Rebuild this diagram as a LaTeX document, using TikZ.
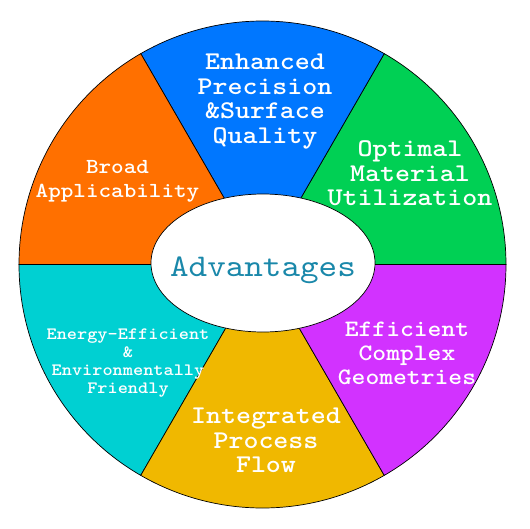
\documentclass[tikz,border=0pt]{standalone}
\usepackage{fontspec}
\setmonofont{lmmono10-regular}[Extension=.otf,BoldFont=lmmonolt10-bold,FakeStretch=1.12]
\usepackage{tikz}
\usetikzlibrary{shapes}
\definecolor{wblue}{HTML}{0077FF}
\definecolor{wgreen}{HTML}{00D054}
\definecolor{worange}{HTML}{FF7000}
\definecolor{wcyan}{HTML}{00D0D2}
\definecolor{wgold}{HTML}{F0B800}
\definecolor{wpurple}{HTML}{D232FF}
\definecolor{wteal}{HTML}{1A88AA}

\begin{document}
\begin{tikzpicture}[x=1pt,y=1pt,
  slice/.style={draw=black,line width=0.7pt},
  hub/.style={ellipse,draw=black,fill=white,line width=0.7pt,
    minimum width=224pt,minimum height=138pt,inner sep=0pt},
  lbl/.style={text=white,align=center,inner sep=0pt,
    font=\fontsize{25.5}{24.4}\selectfont\ttfamily\bfseries}]
\useasboundingbox (-262.5,-263.5) rectangle (267.5,264.5);

% ---- the six slices, counter-clockwise from the right ------------------
\filldraw[slice,fill=wgreen]  (0,0) -- (0:243.5)   arc[start angle=0,  end angle=60, radius=243.5] -- cycle;
\filldraw[slice,fill=wblue]   (0,0) -- (60:243.5)  arc[start angle=60, end angle=120,radius=243.5] -- cycle;
\filldraw[slice,fill=worange] (0,0) -- (120:243.5) arc[start angle=120,end angle=180,radius=243.5] -- cycle;
\filldraw[slice,fill=wcyan]   (0,0) -- (180:243.5) arc[start angle=180,end angle=240,radius=243.5] -- cycle;
\filldraw[slice,fill=wgold]   (0,0) -- (240:243.5) arc[start angle=240,end angle=300,radius=243.5] -- cycle;
\filldraw[slice,fill=wpurple] (0,0) -- (300:243.5) arc[start angle=300,end angle=360,radius=243.5] -- cycle;

% ---- the hub -----------------------------------------------------------
\node[hub] (hub) at (0.5,1.5) {};
\node[text=wteal,inner sep=0pt,text depth=0pt,font=\fontsize{31.6}{31.6}\selectfont\ttfamily]
      (adv) at ([yshift=-3.5pt]hub.center) {Advantages};

% ---- the labels --------------------------------------------------------
\node[lbl] (precision)  at (2.5,163)      {Enhanced\\Precision\\\&Surface\\Quality};
\node[lbl] (material)   at (147.5,91)     {Optimal\\Material\\Utilization};
\node[lbl,font=\fontsize{21.4}{24}\selectfont\ttfamily\bfseries]
           (broad)      at (-145,83)      {Broad\\Applicability};
\node[lbl,font=\fontsize{17.3}{18}\selectfont\ttfamily\bfseries]
           (energy)     at (-134.5,-98.5) {Energy-Efficient\\\&\\Environmentally\\Friendly};
\node[lbl] (flow)       at (3.5,-176)     {Integrated\\Process\\Flow};
\node[lbl,font=\fontsize{23.5}{24}\selectfont\ttfamily\bfseries]
           (geometry)   at (144.5,-89)    {Efficient\\Complex\\Geometries};
\end{tikzpicture}
\end{document}
